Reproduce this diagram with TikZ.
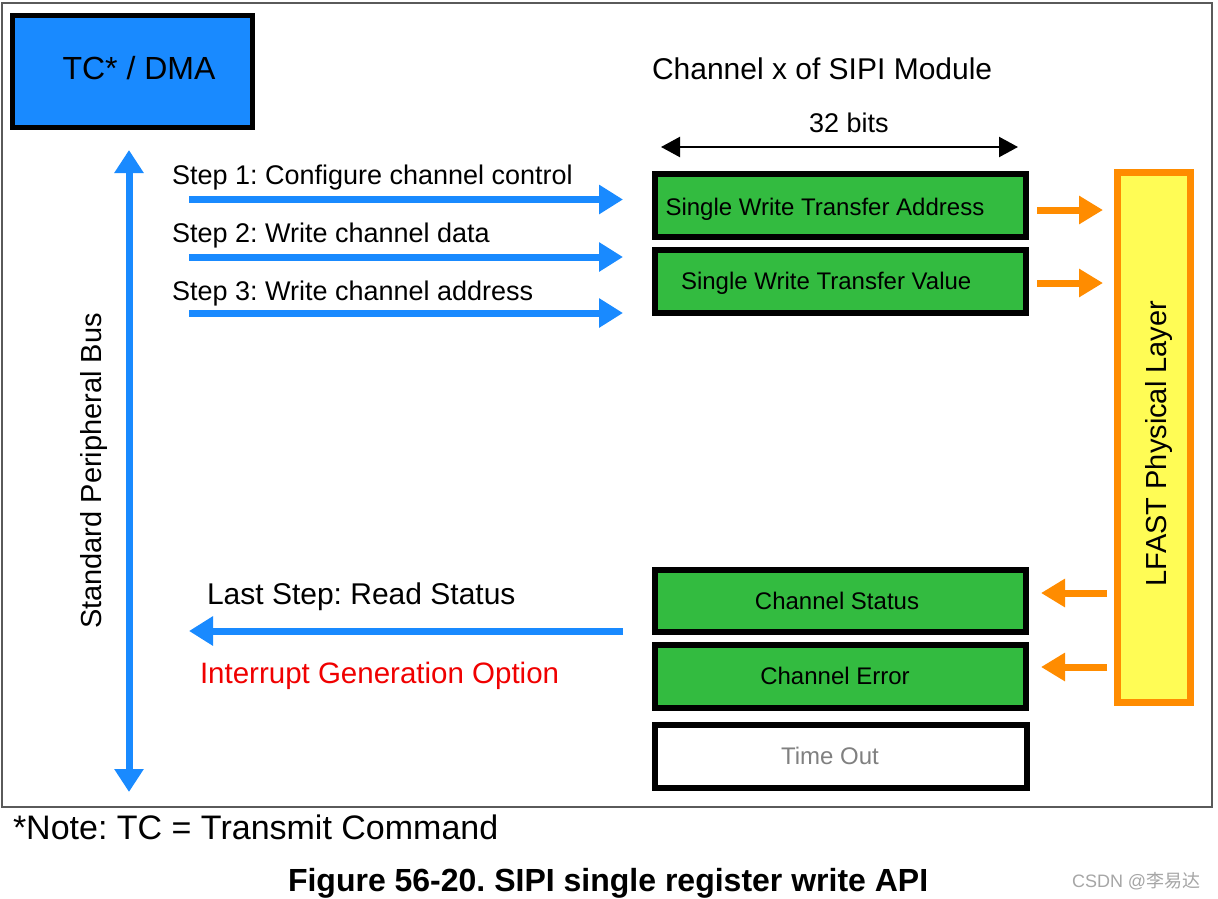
\documentclass[tikz,border=0pt]{standalone}
\usepackage{fontspec}
\setmainfont{Liberation Sans}
\newfontfamily\cjkfont{Noto Sans CJK SC}
\usetikzlibrary{arrows.meta}
\frenchspacing
\definecolor{busblue}{RGB}{25,138,255}
\definecolor{regfill}{RGB}{51,187,64}
\definecolor{lforange}{RGB}{255,140,0}
\definecolor{lfyellow}{RGB}{255,252,85}
\definecolor{errred}{RGB}{240,0,0}
\definecolor{framegray}{RGB}{90,90,90}
\begin{document}
\begin{tikzpicture}[x=1pt,y=-1pt,
  txt/.style={inner sep=0pt, outer sep=0pt, font=\fontsize{#1}{#1}\selectfont},
  regbox/.style={draw=black, line width=6pt, fill=regfill, minimum width=371pt,
    minimum height=63pt, inner sep=0pt, outer sep=0pt},
  bluearrow/.style={draw=busblue, line width=7pt, -{Triangle[length=24pt,width=28pt]}},
  orangearrow/.style={draw=lforange, line width=7pt, -{Triangle[length=24pt,width=27pt]}},
  bitsarrow/.style={draw=black, line width=2.3pt,
    {Triangle[length=19pt,width=20pt]}-{Triangle[length=19pt,width=20pt]}}
]
\useasboundingbox (0,0) rectangle (1218,899);
\fill[white] (0,0) rectangle (1218,899);
% outer frame
\draw[framegray, line width=1.5pt] (2,3) rectangle (1212,807);

% TC / DMA
\node[draw=black, line width=5pt, fill=busblue, minimum width=240pt, minimum height=112pt,
  inner sep=0pt, outer sep=0pt] (tc) at (132.5,71.5) {};
\node[txt=32, anchor=base] (tctext) at (139,80) {TC* / DMA};

% heading
\node[txt=30, anchor=base west] (head) at (652,79) {Channel x of SIPI Module};
\node[txt=27, anchor=base] (bits) at (849,132) {32 bits};
\coordinate (bitsL) at (661,147);
\coordinate (bitsR) at (1018,147);
\draw[bitsarrow] (bitsL) -- (bitsR);

% registers
\node[regbox] (r1) at (840.5,205.5) {};
\node[regbox] (r2) at (840.5,281.5) {};
\node[regbox, minimum height=62pt] (r3) at (840.5,601) {};
\node[regbox] (r4) at (840.5,676.5) {};
\node[regbox, fill=white, minimum width=372pt] (r5) at (841,756.5) {};
\node[txt=24, anchor=base west] (r1t) at (665.5,215) {Single Write Transfer Address};
\node[txt=24, anchor=base west] (r2t) at (681,289) {Single Write Transfer Value};
\node[txt=24, anchor=base] (r3t) at (837,609) {Channel Status};
\node[txt=24, anchor=base] (r4t) at (835,684) {Channel Error};
\node[txt=24, anchor=base, text=black!50] (r5t) at (830,764) {Time Out};

% LFAST
\node[draw=lforange, line width=7pt, fill=lfyellow, minimum width=73pt, minimum height=530pt,
  inner sep=0pt, outer sep=0pt] (lf) at (1154,437.5) {};
\node[txt=29, anchor=base, rotate=90] (lft) at (1166,443.5) {LFAST Physical Layer};

% bus
\coordinate (busT) at (129,150);
\coordinate (busB) at (129,792);
\draw[draw=busblue, line width=7pt,
  {Triangle[length=23pt,width=28pt]}-{Triangle[length=23pt,width=28pt]}] (busT) -- (busB);
\node[txt=29, anchor=base, rotate=90] (bust) at (101,471) {Standard Peripheral Bus};

% steps
\node[txt=27, anchor=base west] (st1) at (172,184) {Step 1: Configure channel control};
\node[txt=27, anchor=base west] (st2) at (172,242) {Step 2: Write channel data};
\node[txt=27, anchor=base west] (st3) at (172,300) {Step 3: Write channel address};
\coordinate (a1s) at (189,199.5); \coordinate (a1e) at (623,199.5);
\coordinate (a2s) at (189,257);   \coordinate (a2e) at (623,257);
\coordinate (a3s) at (189,313);   \coordinate (a3e) at (623,313);
\draw[bluearrow] (a1s) -- (a1e);
\draw[bluearrow] (a2s) -- (a2e);
\draw[bluearrow] (a3s) -- (a3e);

% read status
\node[txt=30, anchor=base west] (last) at (207,604) {Last Step: Read Status};
\node[txt=29.5, anchor=base west, text=errred] (intr) at (200,683) {Interrupt Generation Option};
\coordinate (rds) at (623,631); \coordinate (rde) at (189,631);
\draw[bluearrow] (rds) -- (rde);

% orange arrows
\coordinate (o1s) at (1037,210); \coordinate (o1e) at (1103,210);
\coordinate (o2s) at (1037,283); \coordinate (o2e) at (1103,283);
\coordinate (o3s) at (1107,593); \coordinate (o3e) at (1041,593);
\coordinate (o4s) at (1107,667); \coordinate (o4e) at (1041,667);
\draw[orangearrow] (o1s) -- (o1e);
\draw[orangearrow] (o2s) -- (o2e);
\draw[orangearrow] (o3s) -- (o3e);
\draw[orangearrow] (o4s) -- (o4e);

% notes
\node[txt=34, anchor=base west] (note) at (13,839) {*Note: TC = Transmit Command};
\node[txt=32, anchor=base west, font=\fontsize{32}{32}\selectfont\bfseries] (cap) at (288,891)
  {Figure 56-20. SIPI single register write API};
\node[txt=18, anchor=base west, text=black!35] (wm) at (1072,887)
  {CSDN @{\cjkfont 李易达}};
\end{tikzpicture}
\end{document}
